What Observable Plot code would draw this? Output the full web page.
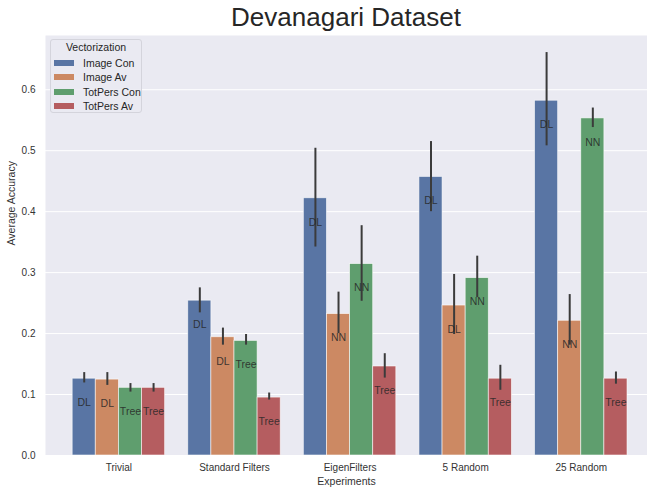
<!DOCTYPE html>
<html>
<head>
<meta charset="utf-8">
<script src="https://cdn.jsdelivr.net/npm/d3@7"></script>
<script src="https://cdn.jsdelivr.net/npm/@observablehq/plot@0.6"></script>
<style>
  body { margin: 0; background: #fff; font-family: "Liberation Sans", Arial, sans-serif; }
  #wrap { position: relative; width: 647px; height: 489px; }
  #title { position: absolute; left: 45px; width: 602px; top: 1px; text-align: center; font-size: 26px; color: #262626; line-height: 32px; }
  #legend { position: absolute; left: 50px; top: 39px; width: 92px; height: 74px; border: 1px solid #d4d4dc; border-radius: 3px; background: rgba(234,234,242,0.85); font-size: 10.5px; color: #262626; box-sizing: border-box; }
  #legend .ttl { position: absolute; left: 0; width: 100%; top: 1px; text-align: center; }
  #legend .item { position: absolute; left: 3px; height: 14px; line-height: 14px; }
  #legend .sw { position: absolute; left: 0; top: 4px; width: 20px; height: 6px; }
  #legend .lb { position: absolute; left: 29px; top: 0; white-space: nowrap; }
</style>
</head>
<body>
<div id="wrap">
  <div id="chart"></div>
  <div id="title">Devanagari Dataset</div>
  <div id="legend"></div>
</div>
<script>
const categories = ["Trivial", "Standard Filters", "EigenFilters", "5 Random", "25 Random"];
const series = ["Image Con", "Image Av", "TotPers Con", "TotPers Av"];
const colors = ["#5975a4", "#cc8963", "#5f9e6e", "#b55d60"];

const imageCon = [0.126, 0.254, 0.422, 0.457, 0.582];
const imageConCI = [[0.119, 0.136], [0.234, 0.275], [0.342, 0.504], [0.400, 0.515], [0.508, 0.661]];
const imageConModel = ["DL", "DL", "DL", "DL", "DL"];

const imageAv = [0.1245, 0.194, 0.232, 0.246, 0.221];
const imageAvCI = [[0.115, 0.136], [0.181, 0.209], [0.200, 0.268], [0.1985, 0.297], [0.181, 0.264]];
const imageAvModel = ["DL", "DL", "NN", "DL", "NN"];

const totPersCon = [0.111, 0.188, 0.314, 0.291, 0.553];
const totPersConCI = [[0.104, 0.118], [0.181, 0.1985], [0.253, 0.377], [0.259, 0.327], [0.538, 0.570]];
const totPersConModel = ["Tree", "Tree", "NN", "NN", "NN"];

const totPersAv = [0.111, 0.095, 0.146, 0.126, 0.126];
const totPersAvCI = [[0.104, 0.118], [0.091, 0.1025], [0.127, 0.167], [0.107, 0.148], [0.117, 0.137]];
const totPersAvModel = ["Tree", "Tree", "Tree", "Tree", "Tree"];

const yTicks = [0, 0.1, 0.2, 0.3, 0.4, 0.5, 0.6];

const seriesData = [
  [imageCon, imageConCI, imageConModel],
  [imageAv, imageAvCI, imageAvModel],
  [totPersCon, totPersConCI, totPersConModel],
  [totPersAv, totPersAvCI, totPersAvModel]
];

const rows = [];
seriesData.forEach(([vals, ci, model], si) => {
  vals.forEach((v, gi) => {
    const x1 = gi - 0.4 + si * 0.2;
    rows.push({cat: categories[gi], series: series[si], gi, si, x1, x2: x1 + 0.2, xc: x1 + 0.1,
               value: v, lo: ci[gi][0], hi: ci[gi][1], model: model[gi]});
  });
});

const chart = Plot.plot({
  width: 647,
  height: 489,
  marginTop: 35,
  marginBottom: 34,
  marginLeft: 45,
  marginRight: 0,
  style: {fontFamily: "Liberation Sans, Arial, sans-serif", background: "white"},
  x: {domain: [-0.635, 4.573]},
  y: {domain: [0, 0.689]},
  color: {domain: series, range: colors},
  marks: [
    Plot.frame({fill: "#eaeaf2", stroke: "none"}),
    Plot.gridY(yTicks, {stroke: "white", strokeOpacity: 1, strokeWidth: 1}),
    Plot.rectY(rows, {x1: "x1", x2: "x2", y1: 0, y2: "value", fill: "series", stroke: "white", strokeWidth: 0.8, strokeOpacity: 0.7}),
    Plot.ruleX(rows, {x: "xc", y1: "lo", y2: "hi", stroke: "#3b3b3b", strokeWidth: 2}),
    Plot.text(rows, {x: "xc", y: "value", text: "model", dy: 24, lineAnchor: "middle", fontSize: 10.5, fill: "#262626", fillOpacity: 0.85}),
    Plot.axisX(d3.range(categories.length), {tickFormat: i => categories[i], tickSize: 0, tickPadding: 8, fontSize: 10, fill: "#333", label: null}),
    Plot.axisY(yTicks, {tickFormat: d3.format(".1f"), tickSize: 0, tickPadding: 10, fontSize: 10, fill: "#333", label: null}),
    Plot.text(["Experiments"], {frameAnchor: "bottom", dy: 26, fontSize: 10.5, fill: "#333", lineAnchor: "middle"}),
    Plot.text(["Average Accuracy"], {frameAnchor: "left", dx: -34, rotate: -90, fontSize: 10.5, fill: "#333", lineAnchor: "middle"})
  ]
});
document.getElementById("chart").appendChild(chart);

const legend = document.getElementById("legend");
legend.innerHTML = `<div class="ttl">Vectorization</div>` + series.map((s, i) =>
  `<div class="item" style="top:${16 + i * 14.3}px"><div class="sw" style="background:${colors[i]}"></div><div class="lb">${s}</div></div>`
).join("");
</script>
</body>
</html>
